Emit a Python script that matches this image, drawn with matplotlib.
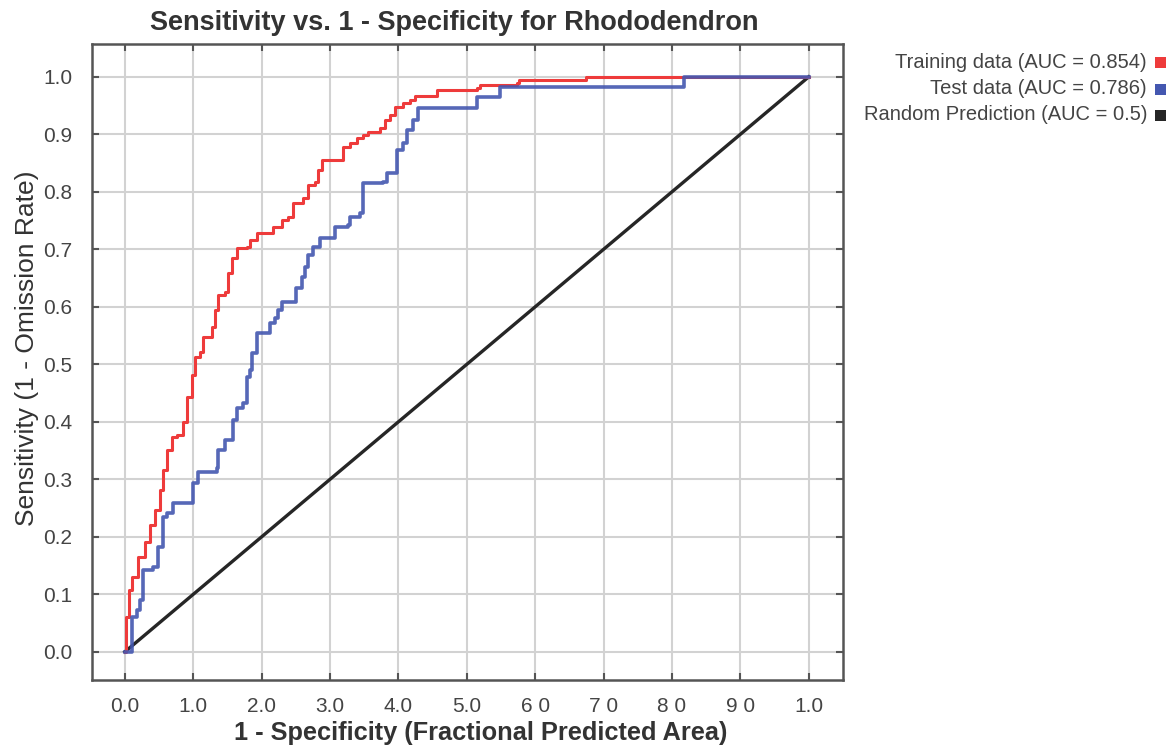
import matplotlib
matplotlib.use("Agg")
import matplotlib.pyplot as plt
from matplotlib import font_manager
from matplotlib.patches import Rectangle

# ROC curve data
train_fpr = [0.0, 0.001, 0.006, 0.010, 0.019, 0.029, 0.037, 0.044, 0.051, 0.056,
             0.061, 0.069, 0.076, 0.085, 0.091, 0.098, 0.102, 0.110, 0.114, 0.127,
             0.132, 0.136, 0.146, 0.151, 0.156, 0.164, 0.178, 0.183, 0.193, 0.208,
             0.216, 0.230, 0.238, 0.246, 0.260, 0.268, 0.278, 0.282, 0.289, 0.310,
             0.319, 0.329, 0.339, 0.348, 0.355, 0.373, 0.380, 0.387, 0.395, 0.406,
             0.417, 0.424, 0.450, 0.456, 0.515, 0.519, 0.573, 0.577, 0.670, 0.675, 1.0]
train_tpr = [0.0, 0.061, 0.108, 0.130, 0.165, 0.191, 0.221, 0.247, 0.282, 0.317,
             0.351, 0.374, 0.377, 0.400, 0.443, 0.482, 0.513, 0.522, 0.548, 0.565,
             0.595, 0.621, 0.626, 0.659, 0.685, 0.703, 0.704, 0.717, 0.729, 0.729,
             0.738, 0.751, 0.757, 0.781, 0.790, 0.812, 0.817, 0.838, 0.856, 0.856,
             0.878, 0.885, 0.894, 0.899, 0.904, 0.911, 0.925, 0.934, 0.948, 0.955,
             0.960, 0.966, 0.966, 0.977, 0.981, 0.986, 0.990, 0.995, 0.995, 1.0, 1.0]

test_fpr = [0.0, 0.004, 0.010, 0.018, 0.022, 0.026, 0.041, 0.048, 0.056, 0.061,
            0.070, 0.095, 0.099, 0.107, 0.135, 0.136, 0.146, 0.158, 0.164, 0.173,
            0.178, 0.183, 0.186, 0.193, 0.209, 0.212, 0.219, 0.224, 0.230, 0.249,
            0.251, 0.259, 0.263, 0.268, 0.275, 0.285, 0.300, 0.307, 0.326, 0.329,
            0.344, 0.348, 0.348, 0.377, 0.383, 0.398, 0.406, 0.412, 0.421, 0.428,
            0.509, 0.515, 0.544, 0.548, 0.814, 0.817, 1.0]
test_tpr = [0.0, 0.0, 0.061, 0.073, 0.090, 0.143, 0.148, 0.183, 0.235, 0.242,
            0.259, 0.259, 0.294, 0.313, 0.320, 0.351, 0.369, 0.403, 0.424, 0.433,
            0.478, 0.490, 0.520, 0.555, 0.555, 0.572, 0.581, 0.595, 0.609, 0.609,
            0.633, 0.652, 0.670, 0.690, 0.704, 0.720, 0.720, 0.739, 0.743, 0.757,
            0.763, 0.803, 0.816, 0.817, 0.833, 0.873, 0.885, 0.908, 0.925, 0.946,
            0.946, 0.965, 0.965, 0.983, 0.983, 1.0, 1.0]

random_x = [0.0, 1.0]
random_y = [0.0, 1.0]

tick_values = [0.0, 0.1, 0.2, 0.3, 0.4, 0.5, 0.6, 0.7, 0.8, 0.9, 1.0]
x_tick_labels = ["0.0", "1.0", "2.0", "3.0", "4.0", "5.0", "6 0", "7 0", "8 0", "9 0", "1.0"]
y_tick_labels = ["0.0", "0.1", "0.2", "0.3", "0.4", "0.5", "0.6", "0.7", "0.8", "0.9", "1.0"]

legend_labels = ["Training data (AUC = 0.854)", "Test data (AUC = 0.786)",
                 "Random Prediction (AUC = 0.5)"]

RED = "#ee3b3b"
BLUE = "#4457b0"
BLACK = "#262626"
TEXT = "#444444"

installed = {f.name for f in font_manager.fontManager.ttflist}
NARROW = "Liberation Sans Narrow" if "Liberation Sans Narrow" in installed else "Liberation Sans"
REGULAR = "Liberation Sans"

fig = plt.figure(figsize=(11.75, 7.54), dpi=100)
ax = fig.add_axes([0.0783, 0.0981, 0.6391, 0.8435])

ax.plot(random_x, random_y, color=BLACK, lw=2.4, zorder=3)
ax.plot(train_fpr, train_tpr, color=RED, lw=2.2, zorder=4, drawstyle="steps-post")
ax.plot(test_fpr, test_tpr, color=BLUE, lw=2.6, zorder=4, alpha=0.9,
        drawstyle="steps-post")

ax.set_xlim(-0.048, 1.050)
ax.set_ylim(-0.049, 1.057)
ax.set_xticks(tick_values)
ax.set_yticks(tick_values)
ax.set_xticklabels(x_tick_labels, fontfamily=NARROW, fontsize=15, color=TEXT)
ax.set_yticklabels(y_tick_labels, fontfamily=NARROW, fontsize=15, color=TEXT)
ax.tick_params(direction="in", length=5, width=1.5, color="#555555",
               top=True, right=True, pad=12)
ax.tick_params(axis="y", pad=14)

ax.grid(True, color="#d2d2d2", lw=1.5, zorder=0)
ax.set_axisbelow(True)
for sp in ax.spines.values():
    sp.set_color("#555555")
    sp.set_linewidth(1.8)

fig.text(454 / 1175, 1 - 23 / 754, "Sensitivity vs. 1 - Specificity for Rhododendron",
         ha="center", va="center", fontsize=19.5, fontweight="bold",
         fontfamily=NARROW, color="#333333")
fig.text(481 / 1175, 1 - 733 / 754, "1 - Specificity (Fractional Predicted Area)",
         ha="center", va="center", fontsize=18.3, fontweight="bold",
         fontfamily=NARROW, color="#333333")
fig.text(27 / 1175, 1 - 348 / 754, "Sensitivity (1 - Omission Rate)",
         ha="center", va="center", rotation=90, fontsize=19,
         fontfamily=NARROW, color="#333333")

# legend: right-aligned text with small coloured squares
legend_colors = [RED, BLUE, BLACK]
legend_y = [62, 89, 115]
for label, col, yy in zip(legend_labels, legend_colors, legend_y):
    fig.text(1147 / 1175, 1 - yy / 754, label, ha="right", va="center",
             fontsize=14.5, fontfamily=REGULAR, color=TEXT)
    fig.patches.append(Rectangle((1155 / 1175, 1 - (yy + 6) / 754),
                                 11 / 1175, 11 / 754, transform=fig.transFigure,
                                 facecolor=col, edgecolor="none"))

fig.savefig("out.png", dpi=100)
